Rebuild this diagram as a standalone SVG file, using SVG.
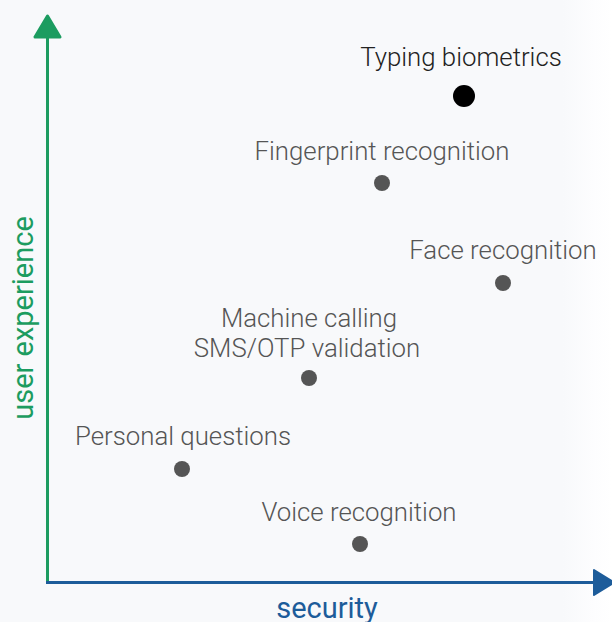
<svg xmlns="http://www.w3.org/2000/svg" width="612" height="622" viewBox="0 0 612 622">
  <defs>
    <linearGradient id="bg" x1="0" y1="0" x2="1" y2="0">
      <stop offset="0" stop-color="#f8f9fb"/>
      <stop offset="0.92" stop-color="#f8f9fb"/>
      <stop offset="0.97" stop-color="#fdfdfe"/>
      <stop offset="1" stop-color="#ffffff"/>
    </linearGradient>
    <style>
      .lbl { font-family: Roboto, "Liberation Sans", sans-serif; font-weight: 300; font-size: 25.8px; fill: #555555; text-anchor: middle; }
      .dot { fill: #555555; }
      .axis-y { stroke: #1c9c60; stroke-width: 3; fill: none; }
      .axis-x { stroke: #1d5c9a; stroke-width: 3; fill: none; }
    </style>
  </defs>
  <rect x="0" y="0" width="612" height="622" fill="url(#bg)"/>

  <g id="connectors">
    <line class="axis-y" x1="47.5" y1="584" x2="47.5" y2="34"/>
    <path d="M47.5 16 L60 37 L35 37 Z" fill="#1c9c60" stroke="#1c9c60" stroke-width="3" stroke-linejoin="round"/>
    <line class="axis-x" x1="46" y1="582.5" x2="596" y2="582.5"/>
    <path d="M594 570 L614 582.5 L594 595 Z" fill="#1d5c9a" stroke="#1d5c9a" stroke-width="2" stroke-linejoin="round"/>
  </g>

  <g id="axis-labels">
    <text x="327" y="618" font-family="Roboto, 'Liberation Sans', sans-serif" font-size="29" fill="#1d5c9a" text-anchor="middle">security</text>
    <text transform="translate(33,318) rotate(-90)" font-family="Roboto, 'Liberation Sans', sans-serif" font-size="29" fill="#1c9c60" text-anchor="middle">user experience</text>
  </g>

  <g id="typing-biometrics">
    <text class="lbl" x="461" y="66" style="fill:#222222">Typing biometrics</text>
    <circle cx="464" cy="96" r="11" fill="#000000"/>
  </g>
  <g id="fingerprint-recognition">
    <text class="lbl" x="382" y="160">Fingerprint recognition</text>
    <circle class="dot" cx="382" cy="183" r="8"/>
  </g>
  <g id="face-recognition">
    <text class="lbl" x="503" y="259">Face recognition</text>
    <circle class="dot" cx="503" cy="283" r="8"/>
  </g>
  <g id="machine-calling-sms">
    <text class="lbl" x="309" y="327">Machine calling</text>
    <text class="lbl" x="307" y="357">SMS/OTP validation</text>
    <circle class="dot" cx="309" cy="378" r="8"/>
  </g>
  <g id="personal-questions">
    <text class="lbl" x="183" y="445">Personal questions</text>
    <circle class="dot" cx="182" cy="469" r="8"/>
  </g>
  <g id="voice-recognition">
    <text class="lbl" x="359" y="521">Voice recognition</text>
    <circle class="dot" cx="360" cy="544" r="8"/>
  </g>
</svg>
